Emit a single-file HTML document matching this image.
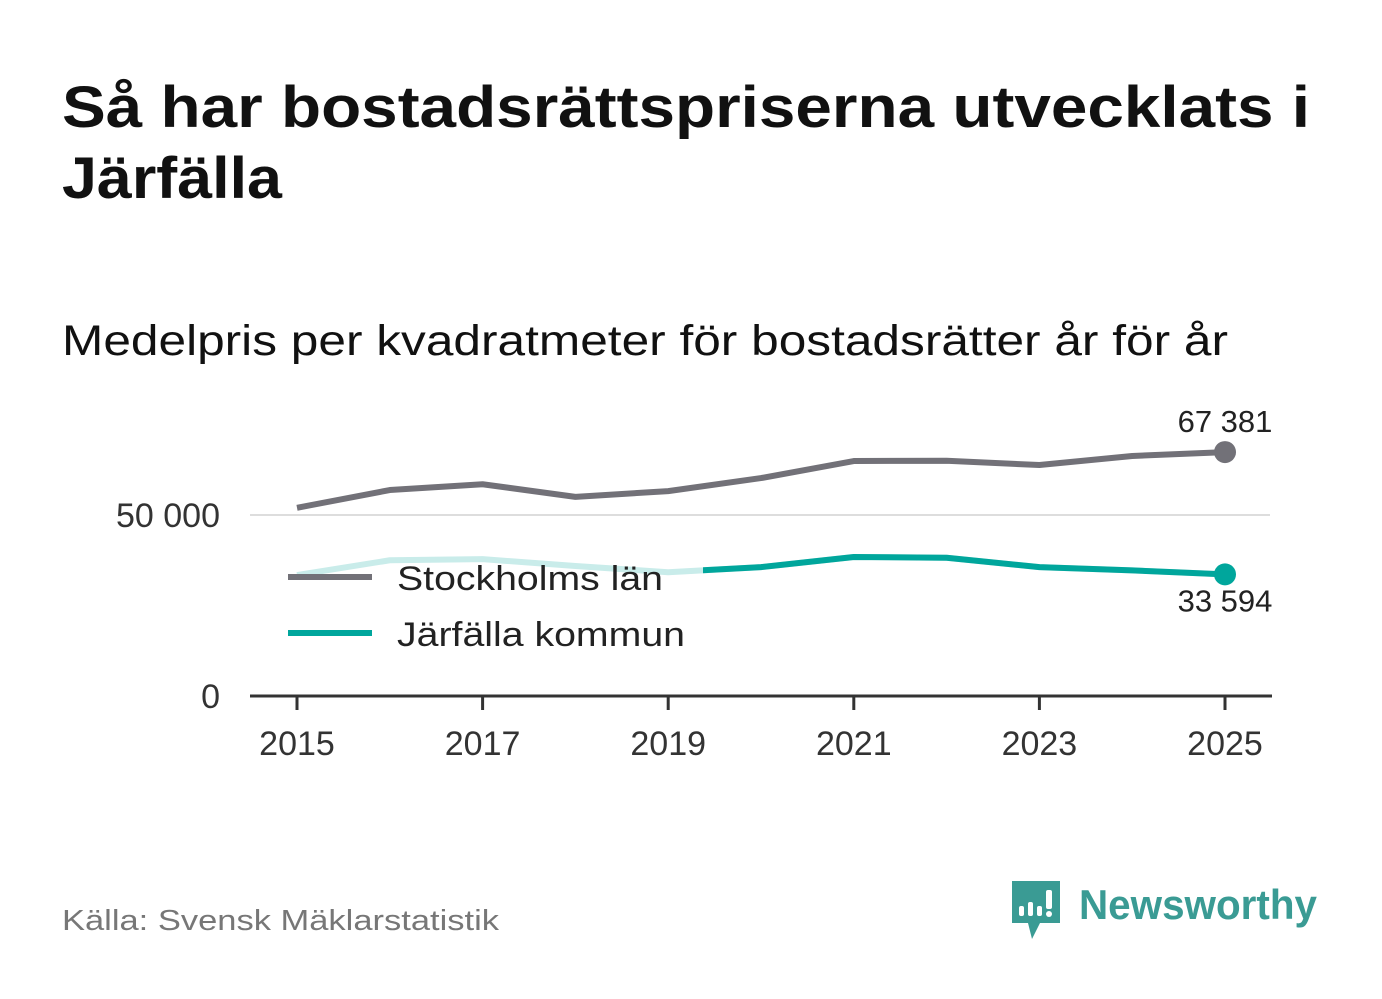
<!DOCTYPE html>
<html><head><meta charset="utf-8"><style>
html,body{margin:0;padding:0;background:#fff;}
svg{display:block;font-family:"Liberation Sans",sans-serif;}
</style></head><body>
<svg id="chart" width="1382" height="999" viewBox="0 0 1382 999">
<text x="62" y="127" font-size="58" font-weight="bold" fill="#111" textLength="1248" lengthAdjust="spacingAndGlyphs">Så har bostadsrättspriserna utvecklats i</text>
<text x="62" y="198" font-size="58" font-weight="bold" fill="#111" textLength="220" lengthAdjust="spacingAndGlyphs">Järfälla</text>
<text x="62" y="355" font-size="43" fill="#111" textLength="1166" lengthAdjust="spacingAndGlyphs">Medelpris per kvadratmeter för bostadsrätter år för år</text>
<g id="grid"></g>
<g id="series"></g>
<g>
<line x1="288" y1="577" x2="372" y2="577" stroke="#727178" stroke-width="6"/>
<text x="397" y="590" font-size="34" fill="#222" textLength="266" lengthAdjust="spacingAndGlyphs">Stockholms län</text>
<line x1="288" y1="633" x2="372" y2="633" stroke="#00a69c" stroke-width="6"/>
<text x="397" y="646" font-size="34" fill="#222" textLength="288" lengthAdjust="spacingAndGlyphs">Järfälla kommun</text>
</g>
<text x="62" y="930" font-size="29" fill="#777" textLength="437" lengthAdjust="spacingAndGlyphs">Källa: Svensk Mäklarstatistik</text>
<g>
<path d="M1012 881 h48 v42 h-20 l-8 16 l-4 -16 h-16 z" fill="#3a9b94"/>
<rect x="1019" y="906" width="5" height="10" rx="2" fill="#fff"/>
<rect x="1028" y="902" width="5" height="14" rx="2" fill="#fff"/>
<rect x="1037" y="906" width="5" height="10" rx="2" fill="#fff"/>
<rect x="1046" y="890" width="6" height="19" rx="2" fill="#fff"/>
<circle cx="1049" cy="914" r="3" fill="#fff"/>
<text x="1079" y="919" font-size="42" font-weight="bold" fill="#3a9b94" textLength="238" lengthAdjust="spacingAndGlyphs">Newsworthy</text>
</g>
</svg>
<script>
const years=[2015,2016,2017,2018,2019,2020,2021,2022,2023,2024,2025];
const stockholm=[52000,56900,58500,55000,56600,60200,64900,65000,63800,66300,67381];
const jarfalla=[33400,37500,37800,35900,34200,35600,38400,38200,35600,34700,33594];
const yTicks=[0,50000];
const yTickLabels=["0","50 000"];
const xTicks=[2015,2017,2019,2021,2023,2025];
const NS="http://www.w3.org/2000/svg";
const x=v=>297+(v-2015)*92.8;
const y=v=>696-v*0.00362;
function mk(tag,attrs,parent){const e=document.createElementNS(NS,tag);for(const k in attrs)e.setAttribute(k,attrs[k]);parent.appendChild(e);return e;}
const grid=document.getElementById('grid'),ser=document.getElementById('series'),svg=document.getElementById('chart');
yTicks.forEach((t,i)=>{
 if(t>0){const l=mk('line',{x1:250,x2:1270,y1:y(t),y2:y(t),stroke:'#ddd','stroke-width':2},grid);
 
 }
 const tx=mk('text',{x:220,y:y(t)+12,'font-size':34,fill:'#333','text-anchor':'end'},grid);
 tx.textContent=yTickLabels[i];
 
 
});
const ax=mk('line',{x1:250,x2:1272,y1:696,y2:696,stroke:'#333','stroke-width':3},grid);


xTicks.forEach(t=>{
 const tk=mk('line',{x1:x(t),x2:x(t),y1:696,y2:710,stroke:'#333','stroke-width':3},grid);
 
 
 const tx=mk('text',{x:x(t),y:755,'font-size':34,fill:'#333','text-anchor':'middle'},grid);
 tx.textContent=t;
 
 
});
const defs=mk('defs',{},svg);
const cp=mk('clipPath',{id:'rightclip'},defs);
mk('rect',{x:703,y:0,width:700,height:999},cp);
const pts=a=>a.map((v,i)=>x(years[i])+','+y(v)).join(' ');
const s=mk('polyline',{points:pts(stockholm),fill:'none',stroke:'#727178','stroke-width':6,'stroke-linejoin':'round'},ser);


const jf=mk('polyline',{points:pts(jarfalla),fill:'none',stroke:'#c9ecea','stroke-width':6,'stroke-linejoin':'round'},ser);


const j=mk('polyline',{points:pts(jarfalla),fill:'none',stroke:'#00a69c','stroke-width':6,'stroke-linejoin':'round','clip-path':'url(#rightclip)'},ser);


const last=years.length-1;
const d1=mk('circle',{cx:x(years[last]),cy:y(stockholm[last]),r:11,fill:'#727178'},ser);


const d2=mk('circle',{cx:x(years[last]),cy:y(jarfalla[last]),r:11,fill:'#00a69c'},ser);


const fmt=v=>String(v).replace(/\B(?=(\d{3})+(?!\d))/g,' ');
const l1=mk('text',{x:x(years[last]),y:y(stockholm[last])-20,'font-size':31,fill:'#222','text-anchor':'middle'},ser);
l1.textContent=fmt(stockholm[last]);


const l2=mk('text',{x:x(years[last]),y:y(jarfalla[last])+37,'font-size':31,fill:'#222','text-anchor':'middle'},ser);
l2.textContent=fmt(jarfalla[last]);


</script>
</body></html>
